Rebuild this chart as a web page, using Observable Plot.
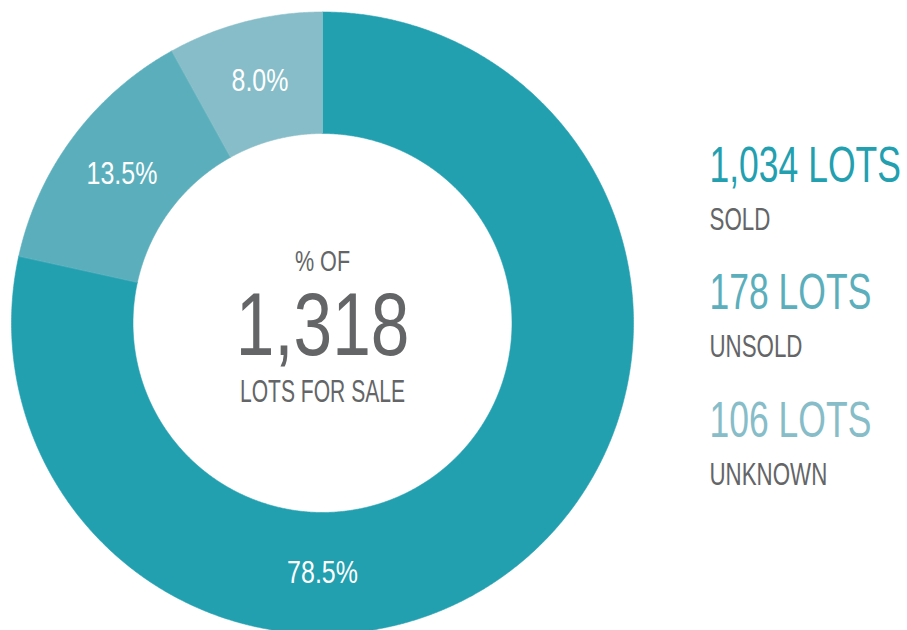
<!DOCTYPE html>
<html><head><meta charset="utf-8">
<script src="https://cdn.jsdelivr.net/npm/d3@7"></script>
<script src="https://cdn.jsdelivr.net/npm/@observablehq/plot@0.6"></script>
<style>
html,body{margin:0;padding:0;background:#fff;}
#chart{width:907px;height:630px;overflow:hidden;}
</style></head><body><div id="chart"></div>
<script>
// ---- data ----
const categories = ["SOLD", "UNSOLD", "UNKNOWN"];
const lots = [1034, 178, 106];
const percentLabels = ["78.5%", "13.5%", "8.0%"];
const lotLabels = ["1,034 LOTS", "178 LOTS", "106 LOTS"];
const colors = ["#22a0b0", "#5bafbc", "#86bdc8"];
const centerTop = "% OF";
const centerNumber = "1,318";
const centerBottom = "LOTS FOR SALE";

// ---- layout (pixels) ----
const W = 907, H = 630, CX = 322, CY = 322.5, R = 311, RI = 189.5;
const FONT = "'Liberation Sans', Arial, sans-serif";
const inner = RI / R;
const px = v => (v - CX) / R;        // pixel x -> data
const py = v => (CY - v) / R;        // pixel y -> data

const pie = d3.pie().sort(null).value(d => d)(lots);
const arcPts = [];
pie.forEach((p, i) => {
  const n = Math.max(8, Math.ceil((p.endAngle - p.startAngle) / 0.005));
  for (let k = 0; k <= n; k++) {
    const a = p.startAngle + (p.endAngle - p.startAngle) * k / n;
    arcPts.push({cat: categories[i], x: Math.sin(a), y: Math.cos(a)});
  }
  for (let k = n; k >= 0; k--) {
    const a = p.startAngle + (p.endAngle - p.startAngle) * k / n;
    arcPts.push({cat: categories[i], x: inner * Math.sin(a), y: inner * Math.cos(a)});
  }
});

const maxIdx = d3.maxIndex(lots);
const midR = (1 + inner) / 2;
const pctData = pie.map((p, i) => {
  const a = i === maxIdx ? Math.PI : (p.startAngle + p.endAngle) / 2;
  return {label: percentLabels[i], x: midR * Math.sin(a), y: midR * Math.cos(a)};
});

const centerData = [
  {t: centerTop, y: py(270), size: 30},
  {t: centerNumber, y: py(354), size: 89},
  {t: centerBottom, y: py(401), size: 31}
];

const legendNums = categories.map((c, i) => ({cat: c, t: lotLabels[i], x: px(709), y: py(181 + i * 127.5)}));
const legendCats = categories.map((c, i) => ({cat: c, t: c, x: px(709), y: py(229 + i * 127.5)}));

const chart = Plot.plot({
  width: W, height: H, margin: 0,
  x: {domain: [px(0), px(W)], axis: null},
  y: {domain: [py(H), py(0)], axis: null},
  color: {domain: categories, range: colors},
  style: {background: "transparent", fontFamily: FONT},
  marks: [
    Plot.line(arcPts, {x: "x", y: "y", z: "cat", fill: "cat", stroke: "cat", strokeWidth: 0.6, curve: "linear-closed"}),
    Plot.text(pctData, {x: "x", y: "y", text: "label", fill: "white", fontSize: 32, fontFamily: FONT, textAnchor: "middle", lineAnchor: "middle"}),
    ...centerData.map(d => Plot.text([d], {x: () => 0, y: "y", text: "t", fill: "#646567", fontSize: d.size, fontFamily: FONT, textAnchor: "middle", lineAnchor: "bottom"})),
    Plot.text(legendNums, {x: "x", y: "y", text: "t", fill: "cat", fontSize: 50, fontFamily: FONT, textAnchor: "start", lineAnchor: "bottom"}),
    Plot.text(legendCats, {x: "x", y: "y", text: "t", fill: "#646567", fontSize: 31, fontFamily: FONT, textAnchor: "start", lineAnchor: "bottom"})
  ]
});

// condense glyphs horizontally to mimic the condensed gothic face
chart.querySelectorAll("text").forEach(el => {
  const s = el.textContent;
  const letters = (s.match(/[A-Z]/g) || []).length;
  const spaces = (s.match(/ /g) || []).length;
  let sx = letters === 0 ? 0.78 : (/[0-9]/.test(s) ? 0.71 : 0.72);
  if (letters > 0 && !/[0-9]/.test(s) && spaces > 1) sx = 0.68;
  const tr = el.getAttribute("transform");
  if (tr) {
    el.setAttribute("transform", tr + ` scale(${sx},1)`);
  } else {
    const x = +(el.getAttribute("x") || 0), y = +(el.getAttribute("y") || 0);
    el.removeAttribute("x"); el.removeAttribute("y");
    el.setAttribute("transform", `translate(${x},${y}) scale(${sx},1)`);
  }
});

document.getElementById("chart").appendChild(chart);
</script>
</body></html>
